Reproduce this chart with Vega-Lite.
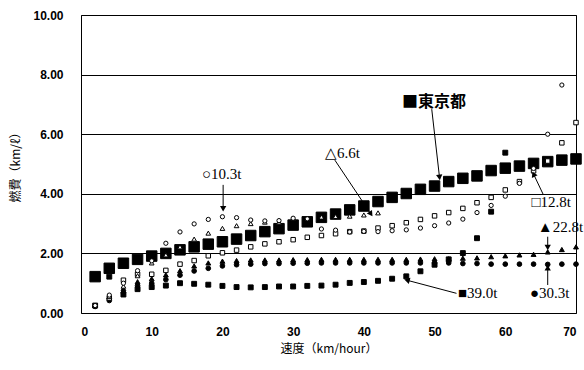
{
  "$schema": "https://vega.github.io/schema/vega-lite/v6.json",
  "width": 495,
  "height": 298,
  "autosize": {"type": "none"},
  "padding": {"left": 81, "top": 15, "right": 8, "bottom": 57},
  "background": "white",
  "config": {
    "view": {"stroke": "black", "strokeWidth": 1},
    "axis": {
      "labelFont": "Liberation Sans",
      "labelFontWeight": "bold",
      "labelFontSize": 12,
      "labelColor": "black",
      "titleFont": "Noto Sans CJK JP",
      "titleFontWeight": "normal",
      "titleFontSize": 12,
      "titleColor": "black",
      "domain": false,
      "ticks": false
    }
  },
  "datasets": {
    "series": [
      {"truck": "東京都", "speed": 2, "kmpl": 1.22}, {"truck": "東京都", "speed": 4, "kmpl": 1.50}, {"truck": "東京都", "speed": 6, "kmpl": 1.67}, {"truck": "東京都", "speed": 8, "kmpl": 1.80}, {"truck": "東京都", "speed": 10, "kmpl": 1.91}, {"truck": "東京都", "speed": 12, "kmpl": 2.00}, {"truck": "東京都", "speed": 14, "kmpl": 2.12}, {"truck": "東京都", "speed": 16, "kmpl": 2.22}, {"truck": "東京都", "speed": 18, "kmpl": 2.31}, {"truck": "東京都", "speed": 20, "kmpl": 2.39}, {"truck": "東京都", "speed": 22, "kmpl": 2.48}, {"truck": "東京都", "speed": 24, "kmpl": 2.60}, {"truck": "東京都", "speed": 26, "kmpl": 2.73}, {"truck": "東京都", "speed": 28, "kmpl": 2.83}, {"truck": "東京都", "speed": 30, "kmpl": 2.95}, {"truck": "東京都", "speed": 32, "kmpl": 3.06}, {"truck": "東京都", "speed": 34, "kmpl": 3.21}, {"truck": "東京都", "speed": 36, "kmpl": 3.32}, {"truck": "東京都", "speed": 38, "kmpl": 3.46}, {"truck": "東京都", "speed": 40, "kmpl": 3.59}, {"truck": "東京都", "speed": 42, "kmpl": 3.74}, {"truck": "東京都", "speed": 44, "kmpl": 3.88}, {"truck": "東京都", "speed": 46, "kmpl": 4.01}, {"truck": "東京都", "speed": 48, "kmpl": 4.15}, {"truck": "東京都", "speed": 50, "kmpl": 4.26}, {"truck": "東京都", "speed": 52, "kmpl": 4.41}, {"truck": "東京都", "speed": 54, "kmpl": 4.52}, {"truck": "東京都", "speed": 56, "kmpl": 4.60}, {"truck": "東京都", "speed": 58, "kmpl": 4.78}, {"truck": "東京都", "speed": 60, "kmpl": 4.86}, {"truck": "東京都", "speed": 62, "kmpl": 4.93}, {"truck": "東京都", "speed": 64, "kmpl": 5.02}, {"truck": "東京都", "speed": 66, "kmpl": 5.08}, {"truck": "東京都", "speed": 68, "kmpl": 5.13}, {"truck": "東京都", "speed": 70, "kmpl": 5.17},

      {"truck": "39.0t", "speed": 2, "kmpl": 0.25}, {"truck": "39.0t", "speed": 4, "kmpl": 1.22}, {"truck": "39.0t", "speed": 6, "kmpl": 0.62}, {"truck": "39.0t", "speed": 8, "kmpl": 0.80}, {"truck": "39.0t", "speed": 10, "kmpl": 0.87}, {"truck": "39.0t", "speed": 12, "kmpl": 0.92}, {"truck": "39.0t", "speed": 14, "kmpl": 1.00}, {"truck": "39.0t", "speed": 16, "kmpl": 0.98}, {"truck": "39.0t", "speed": 18, "kmpl": 0.95}, {"truck": "39.0t", "speed": 20, "kmpl": 0.91}, {"truck": "39.0t", "speed": 22, "kmpl": 0.87}, {"truck": "39.0t", "speed": 24, "kmpl": 0.86}, {"truck": "39.0t", "speed": 26, "kmpl": 0.87}, {"truck": "39.0t", "speed": 28, "kmpl": 0.89}, {"truck": "39.0t", "speed": 30, "kmpl": 0.89}, {"truck": "39.0t", "speed": 32, "kmpl": 0.91}, {"truck": "39.0t", "speed": 34, "kmpl": 0.92}, {"truck": "39.0t", "speed": 36, "kmpl": 0.95}, {"truck": "39.0t", "speed": 38, "kmpl": 1.01}, {"truck": "39.0t", "speed": 40, "kmpl": 1.04}, {"truck": "39.0t", "speed": 42, "kmpl": 1.08}, {"truck": "39.0t", "speed": 44, "kmpl": 1.15}, {"truck": "39.0t", "speed": 46, "kmpl": 1.23}, {"truck": "39.0t", "speed": 48, "kmpl": 1.40}, {"truck": "39.0t", "speed": 50, "kmpl": 1.62}, {"truck": "39.0t", "speed": 52, "kmpl": 1.80}, {"truck": "39.0t", "speed": 54, "kmpl": 2.01}, {"truck": "39.0t", "speed": 56, "kmpl": 2.51}, {"truck": "39.0t", "speed": 58, "kmpl": 3.40}, {"truck": "39.0t", "speed": 60, "kmpl": 5.38},

      {"truck": "30.3t", "speed": 2, "kmpl": 0.22}, {"truck": "30.3t", "speed": 4, "kmpl": 0.42}, {"truck": "30.3t", "speed": 6, "kmpl": 0.68}, {"truck": "30.3t", "speed": 8, "kmpl": 0.92}, {"truck": "30.3t", "speed": 10, "kmpl": 1.00}, {"truck": "30.3t", "speed": 12, "kmpl": 1.12}, {"truck": "30.3t", "speed": 14, "kmpl": 1.27}, {"truck": "30.3t", "speed": 16, "kmpl": 1.41}, {"truck": "30.3t", "speed": 18, "kmpl": 1.50}, {"truck": "30.3t", "speed": 20, "kmpl": 1.58}, {"truck": "30.3t", "speed": 22, "kmpl": 1.62}, {"truck": "30.3t", "speed": 24, "kmpl": 1.64}, {"truck": "30.3t", "speed": 26, "kmpl": 1.66}, {"truck": "30.3t", "speed": 28, "kmpl": 1.66}, {"truck": "30.3t", "speed": 30, "kmpl": 1.67}, {"truck": "30.3t", "speed": 32, "kmpl": 1.67}, {"truck": "30.3t", "speed": 34, "kmpl": 1.68}, {"truck": "30.3t", "speed": 36, "kmpl": 1.68}, {"truck": "30.3t", "speed": 38, "kmpl": 1.68}, {"truck": "30.3t", "speed": 40, "kmpl": 1.68}, {"truck": "30.3t", "speed": 42, "kmpl": 1.68}, {"truck": "30.3t", "speed": 44, "kmpl": 1.68}, {"truck": "30.3t", "speed": 46, "kmpl": 1.68}, {"truck": "30.3t", "speed": 48, "kmpl": 1.68}, {"truck": "30.3t", "speed": 50, "kmpl": 1.68}, {"truck": "30.3t", "speed": 52, "kmpl": 1.68}, {"truck": "30.3t", "speed": 54, "kmpl": 1.66}, {"truck": "30.3t", "speed": 56, "kmpl": 1.66}, {"truck": "30.3t", "speed": 58, "kmpl": 1.64}, {"truck": "30.3t", "speed": 60, "kmpl": 1.64}, {"truck": "30.3t", "speed": 62, "kmpl": 1.64}, {"truck": "30.3t", "speed": 64, "kmpl": 1.64}, {"truck": "30.3t", "speed": 66, "kmpl": 1.63}, {"truck": "30.3t", "speed": 68, "kmpl": 1.64}, {"truck": "30.3t", "speed": 70, "kmpl": 1.64},

      {"truck": "22.8t", "speed": 2, "kmpl": 0.25}, {"truck": "22.8t", "speed": 4, "kmpl": 0.55}, {"truck": "22.8t", "speed": 6, "kmpl": 0.82}, {"truck": "22.8t", "speed": 8, "kmpl": 1.05}, {"truck": "22.8t", "speed": 10, "kmpl": 1.15}, {"truck": "22.8t", "speed": 12, "kmpl": 1.28}, {"truck": "22.8t", "speed": 14, "kmpl": 1.42}, {"truck": "22.8t", "speed": 16, "kmpl": 1.58}, {"truck": "22.8t", "speed": 18, "kmpl": 1.68}, {"truck": "22.8t", "speed": 20, "kmpl": 1.74}, {"truck": "22.8t", "speed": 22, "kmpl": 1.76}, {"truck": "22.8t", "speed": 24, "kmpl": 1.78}, {"truck": "22.8t", "speed": 26, "kmpl": 1.78}, {"truck": "22.8t", "speed": 28, "kmpl": 1.78}, {"truck": "22.8t", "speed": 30, "kmpl": 1.79}, {"truck": "22.8t", "speed": 32, "kmpl": 1.79}, {"truck": "22.8t", "speed": 34, "kmpl": 1.80}, {"truck": "22.8t", "speed": 36, "kmpl": 1.80}, {"truck": "22.8t", "speed": 38, "kmpl": 1.80}, {"truck": "22.8t", "speed": 40, "kmpl": 1.80}, {"truck": "22.8t", "speed": 42, "kmpl": 1.80}, {"truck": "22.8t", "speed": 44, "kmpl": 1.80}, {"truck": "22.8t", "speed": 46, "kmpl": 1.80}, {"truck": "22.8t", "speed": 48, "kmpl": 1.81}, {"truck": "22.8t", "speed": 50, "kmpl": 1.82}, {"truck": "22.8t", "speed": 52, "kmpl": 1.82}, {"truck": "22.8t", "speed": 54, "kmpl": 1.84}, {"truck": "22.8t", "speed": 56, "kmpl": 1.85}, {"truck": "22.8t", "speed": 58, "kmpl": 1.89}, {"truck": "22.8t", "speed": 60, "kmpl": 1.92}, {"truck": "22.8t", "speed": 62, "kmpl": 1.95}, {"truck": "22.8t", "speed": 64, "kmpl": 1.97}, {"truck": "22.8t", "speed": 66, "kmpl": 2.05}, {"truck": "22.8t", "speed": 68, "kmpl": 2.13}, {"truck": "22.8t", "speed": 70, "kmpl": 2.22},

      {"truck": "12.8t", "speed": 4, "kmpl": 0.50}, {"truck": "12.8t", "speed": 6, "kmpl": 1.10}, {"truck": "12.8t", "speed": 8, "kmpl": 1.30}, {"truck": "12.8t", "speed": 10, "kmpl": 1.30}, {"truck": "12.8t", "speed": 12, "kmpl": 1.43}, {"truck": "12.8t", "speed": 14, "kmpl": 1.64}, {"truck": "12.8t", "speed": 16, "kmpl": 1.76}, {"truck": "12.8t", "speed": 18, "kmpl": 1.92}, {"truck": "12.8t", "speed": 20, "kmpl": 2.02}, {"truck": "12.8t", "speed": 22, "kmpl": 2.11}, {"truck": "12.8t", "speed": 24, "kmpl": 2.22}, {"truck": "12.8t", "speed": 26, "kmpl": 2.32}, {"truck": "12.8t", "speed": 28, "kmpl": 2.39}, {"truck": "12.8t", "speed": 30, "kmpl": 2.46}, {"truck": "12.8t", "speed": 32, "kmpl": 2.54}, {"truck": "12.8t", "speed": 34, "kmpl": 2.60}, {"truck": "12.8t", "speed": 36, "kmpl": 2.66}, {"truck": "12.8t", "speed": 38, "kmpl": 2.73}, {"truck": "12.8t", "speed": 40, "kmpl": 2.75}, {"truck": "12.8t", "speed": 42, "kmpl": 2.85}, {"truck": "12.8t", "speed": 44, "kmpl": 2.93}, {"truck": "12.8t", "speed": 46, "kmpl": 3.03}, {"truck": "12.8t", "speed": 48, "kmpl": 3.14}, {"truck": "12.8t", "speed": 50, "kmpl": 3.26}, {"truck": "12.8t", "speed": 52, "kmpl": 3.37}, {"truck": "12.8t", "speed": 54, "kmpl": 3.51}, {"truck": "12.8t", "speed": 56, "kmpl": 3.70}, {"truck": "12.8t", "speed": 58, "kmpl": 3.88}, {"truck": "12.8t", "speed": 60, "kmpl": 4.13}, {"truck": "12.8t", "speed": 62, "kmpl": 4.41}, {"truck": "12.8t", "speed": 64, "kmpl": 4.77}, {"truck": "12.8t", "speed": 66, "kmpl": 5.10}, {"truck": "12.8t", "speed": 68, "kmpl": 5.71}, {"truck": "12.8t", "speed": 70, "kmpl": 6.39},

      {"truck": "6.6t", "speed": 2, "kmpl": 0.25}, {"truck": "6.6t", "speed": 4, "kmpl": 0.55}, {"truck": "6.6t", "speed": 6, "kmpl": 0.90}, {"truck": "6.6t", "speed": 8, "kmpl": 1.25}, {"truck": "6.6t", "speed": 10, "kmpl": 1.68}, {"truck": "6.6t", "speed": 12, "kmpl": 1.95}, {"truck": "6.6t", "speed": 14, "kmpl": 2.22}, {"truck": "6.6t", "speed": 16, "kmpl": 2.48}, {"truck": "6.6t", "speed": 18, "kmpl": 2.68}, {"truck": "6.6t", "speed": 20, "kmpl": 2.84}, {"truck": "6.6t", "speed": 22, "kmpl": 2.93}, {"truck": "6.6t", "speed": 24, "kmpl": 3.00}, {"truck": "6.6t", "speed": 26, "kmpl": 3.05}, {"truck": "6.6t", "speed": 28, "kmpl": 3.05}, {"truck": "6.6t", "speed": 30, "kmpl": 3.18}, {"truck": "6.6t", "speed": 32, "kmpl": 3.18}, {"truck": "6.6t", "speed": 34, "kmpl": 3.22}, {"truck": "6.6t", "speed": 36, "kmpl": 3.24}, {"truck": "6.6t", "speed": 38, "kmpl": 3.25}, {"truck": "6.6t", "speed": 40, "kmpl": 3.29}, {"truck": "6.6t", "speed": 42, "kmpl": 3.36},

      {"truck": "10.3t", "speed": 2, "kmpl": 0.25}, {"truck": "10.3t", "speed": 4, "kmpl": 0.60}, {"truck": "10.3t", "speed": 6, "kmpl": 1.00}, {"truck": "10.3t", "speed": 8, "kmpl": 1.42}, {"truck": "10.3t", "speed": 10, "kmpl": 1.75}, {"truck": "10.3t", "speed": 12, "kmpl": 2.34}, {"truck": "10.3t", "speed": 14, "kmpl": 2.72}, {"truck": "10.3t", "speed": 16, "kmpl": 2.99}, {"truck": "10.3t", "speed": 18, "kmpl": 3.14}, {"truck": "10.3t", "speed": 20, "kmpl": 3.23}, {"truck": "10.3t", "speed": 22, "kmpl": 3.20}, {"truck": "10.3t", "speed": 24, "kmpl": 3.12}, {"truck": "10.3t", "speed": 26, "kmpl": 3.09}, {"truck": "10.3t", "speed": 28, "kmpl": 3.10}, {"truck": "10.3t", "speed": 30, "kmpl": 3.18}, {"truck": "10.3t", "speed": 32, "kmpl": 3.16}, {"truck": "10.3t", "speed": 34, "kmpl": 2.82}, {"truck": "10.3t", "speed": 36, "kmpl": 2.78}, {"truck": "10.3t", "speed": 38, "kmpl": 2.72}, {"truck": "10.3t", "speed": 40, "kmpl": 2.74}, {"truck": "10.3t", "speed": 42, "kmpl": 2.73}, {"truck": "10.3t", "speed": 44, "kmpl": 2.76}, {"truck": "10.3t", "speed": 46, "kmpl": 2.79}, {"truck": "10.3t", "speed": 48, "kmpl": 2.85}, {"truck": "10.3t", "speed": 50, "kmpl": 2.93}, {"truck": "10.3t", "speed": 52, "kmpl": 3.02}, {"truck": "10.3t", "speed": 54, "kmpl": 3.15}, {"truck": "10.3t", "speed": 56, "kmpl": 3.37}, {"truck": "10.3t", "speed": 58, "kmpl": 3.61}, {"truck": "10.3t", "speed": 60, "kmpl": 3.92}, {"truck": "10.3t", "speed": 62, "kmpl": 4.35}, {"truck": "10.3t", "speed": 64, "kmpl": 4.85}, {"truck": "10.3t", "speed": 66, "kmpl": 6.00}, {"truck": "10.3t", "speed": 68, "kmpl": 7.65}
    ],
    "notes": [
      {"label": "○10.3t", "x": 17.1, "y": 4.66},
      {"label": "△6.6t", "x": 34.5, "y": 5.36},
      {"label": "□12.8t", "x": 63.7, "y": 3.73},
      {"label": "▲22.8t", "x": 64.6, "y": 2.90},
      {"label": "●30.3t", "x": 63.5, "y": 0.66},
      {"label": "■39.0t", "x": 53.3, "y": 0.66}
    ],
    "tokyo": [
      {"label": "■東京都", "x": 45.4, "y": 7.09}
    ],
    "arrows": [
      {"name": "10.3t", "x": 20.1, "y": 4.30, "x2": 20.1, "y2": 3.50},
      {"name": "6.6t", "x": 35.9, "y": 5.13, "x2": 41.0, "y2": 3.32},
      {"name": "東京都", "x": 49.6, "y": 6.84, "x2": 50.7, "y2": 4.55},
      {"name": "12.8t", "x": 65.4, "y": 3.96, "x2": 64.0, "y2": 4.66},
      {"name": "22.8t", "x": 66.0, "y": 2.56, "x2": 66.0, "y2": 2.20},
      {"name": "30.3t", "x": 66.0, "y": 0.94, "x2": 66.0, "y2": 1.52},
      {"name": "39.0t", "x": 53.1, "y": 0.66, "x2": 46.1, "y2": 1.10}
    ]
  },
  "layer": [
    {
      "data": {"name": "series"},
      "mark": {"type": "point", "filled": true, "stroke": "black", "strokeWidth": 1, "opacity": 1},
      "encoding": {
        "x": {
          "field": "speed", "type": "quantitative",
          "scale": {"domain": [0, 70], "nice": false, "zero": false},
          "axis": {"values": [0, 10, 20, 30, 40, 50, 60, 70], "grid": false, "labelPadding": 13, "titlePadding": 6, "title": "速度（km/hour）"}
        },
        "y": {
          "field": "kmpl", "type": "quantitative",
          "scale": {"domain": [0, 10], "nice": false},
          "axis": {"values": [0, 2, 4, 6, 8, 10], "format": ".2f", "grid": true, "gridColor": "black", "gridWidth": 1, "gridOpacity": 1, "labelPadding": 18, "titlePadding": 10, "title": "燃費（km/ℓ）"}
        },
        "shape": {
          "field": "truck", "type": "nominal", "legend": null,
          "scale": {"domain": ["東京都", "39.0t", "30.3t", "22.8t", "12.8t", "6.6t", "10.3t"], "range": ["square", "square", "circle", "triangle-up", "square", "triangle-up", "circle"]}
        },
        "fill": {
          "field": "truck", "type": "nominal", "legend": null,
          "scale": {"domain": ["東京都", "39.0t", "30.3t", "22.8t", "12.8t", "6.6t", "10.3t"], "range": ["black", "black", "black", "black", "white", "white", "white"]}
        },
        "size": {
          "field": "truck", "type": "nominal", "legend": null,
          "scale": {"type": "ordinal", "domain": ["東京都", "39.0t", "30.3t", "22.8t", "12.8t", "6.6t", "10.3t"], "range": [110, 24, 22, 24, 20, 22, 18]}
        }
      }
    },
    {
      "data": {"name": "arrows"},
      "mark": {"type": "rule", "color": "black", "strokeWidth": 1},
      "encoding": {
        "x": {"field": "x", "type": "quantitative"},
        "y": {"field": "y", "type": "quantitative"},
        "x2": {"field": "x2"},
        "y2": {"field": "y2"}
      }
    },
    {
      "data": {"name": "arrows"},
      "transform": [{"filter": "datum.name === '10.3t' || datum.name === '22.8t'"}],
      "mark": {"type": "point", "shape": "triangle-down", "filled": true, "color": "black", "size": 40, "opacity": 1},
      "encoding": {"x": {"field": "x2", "type": "quantitative"}, "y": {"field": "y2", "type": "quantitative"}}
    },
    {
      "data": {"name": "arrows"},
      "transform": [{"filter": "datum.name === '30.3t'"}],
      "mark": {"type": "point", "shape": "triangle-up", "filled": true, "color": "black", "size": 40, "opacity": 1},
      "encoding": {"x": {"field": "x2", "type": "quantitative"}, "y": {"field": "y2", "type": "quantitative"}}
    },
    {
      "data": {"name": "arrows"},
      "transform": [{"filter": "datum.name === '6.6t'"}],
      "mark": {"type": "point", "shape": "triangle-up", "angle": 146, "filled": true, "color": "black", "size": 40, "opacity": 1},
      "encoding": {"x": {"field": "x2", "type": "quantitative"}, "y": {"field": "y2", "type": "quantitative"}}
    },
    {
      "data": {"name": "arrows"},
      "transform": [{"filter": "datum.name === '東京都'"}],
      "mark": {"type": "point", "shape": "triangle-up", "angle": 173, "filled": true, "color": "black", "size": 40, "opacity": 1},
      "encoding": {"x": {"field": "x2", "type": "quantitative"}, "y": {"field": "y2", "type": "quantitative"}}
    },
    {
      "data": {"name": "arrows"},
      "transform": [{"filter": "datum.name === '12.8t'"}],
      "mark": {"type": "point", "shape": "triangle-up", "angle": -25, "filled": true, "color": "black", "size": 40, "opacity": 1},
      "encoding": {"x": {"field": "x2", "type": "quantitative"}, "y": {"field": "y2", "type": "quantitative"}}
    },
    {
      "data": {"name": "arrows"},
      "transform": [{"filter": "datum.name === '39.0t'"}],
      "mark": {"type": "point", "shape": "triangle-up", "angle": -75, "filled": true, "color": "black", "size": 40, "opacity": 1},
      "encoding": {"x": {"field": "x2", "type": "quantitative"}, "y": {"field": "y2", "type": "quantitative"}}
    },
    {
      "data": {"name": "notes"},
      "mark": {"type": "text", "align": "left", "baseline": "middle", "font": "Liberation Serif", "fontSize": 15, "color": "black"},
      "encoding": {
        "x": {"field": "x", "type": "quantitative"},
        "y": {"field": "y", "type": "quantitative"},
        "text": {"field": "label"}
      }
    },
    {
      "data": {"name": "tokyo"},
      "mark": {"type": "text", "align": "left", "baseline": "middle", "font": "Noto Sans CJK JP", "fontWeight": "bold", "fontSize": 16, "color": "black"},
      "encoding": {
        "x": {"field": "x", "type": "quantitative"},
        "y": {"field": "y", "type": "quantitative"},
        "text": {"field": "label"}
      }
    }
  ]
}
